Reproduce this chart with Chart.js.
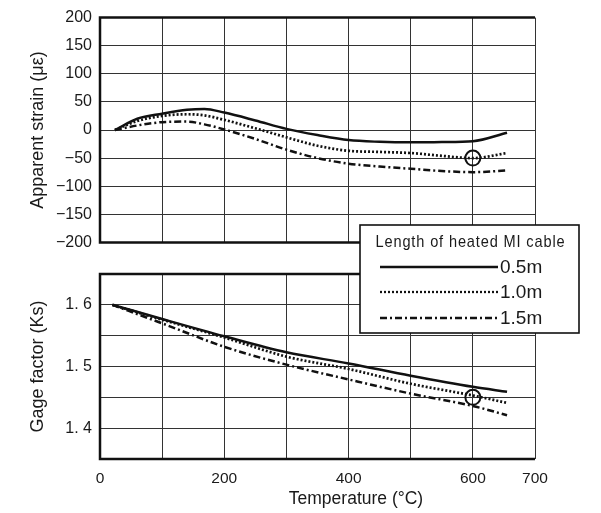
<!DOCTYPE html>
<html>
<head>
<meta charset="utf-8">
<script src="https://cdn.jsdelivr.net/npm/chart.js@4.4.1/dist/chart.umd.min.js"></script>
<style>
    html, body { margin: 0; padding: 0; background: #fff; }
    #wrap { position: relative; width: 601px; height: 513px; overflow: hidden; }
    #strainChart { position: absolute; left: 0; top: 0; }
    #gageChart { position: absolute; left: 0; top: 220px; z-index: 2; }
</style>
</head>
<body>
<div id="wrap">
    <canvas id="strainChart" width="601" height="260"></canvas>
    <canvas id="gageChart" width="601" height="293"></canvas>
</div>
<script>
// --- Data ---
const cableLabels = ['0.5m', '1.0m', '1.5m'];
const legendTitle = 'Length of heated MI cable';

// Apparent strain (µε) vs temperature
const strainTemps = [24, 60, 100, 140, 168, 200, 250, 300, 350, 400, 450, 500, 550, 600, 655];
const strain05 = [0, 20, 29, 36, 37.5, 31, 17, 2, -9, -18, -21, -22, -21.5, -20, -5];
const strain10 = [0, 16, 25, 28, 26, 18, 3, -13, -28, -37, -39, -41, -46, -50, -41];
const strain15 = [0, 8, 14, 15, 10, 1, -16, -35, -50, -60, -65, -69, -73, -75, -72];

// Gage factor (Ks) vs temperature
const gageTemps = [20, 100, 200, 300, 400, 500, 600, 655];
const gage05 = [1.6, 1.577, 1.549, 1.523, 1.505, 1.485, 1.467, 1.459];
const gage10 = [1.6, 1.576, 1.547, 1.516, 1.496, 1.472, 1.453, 1.441];
const gage15 = [1.6, 1.570, 1.532, 1.503, 1.479, 1.456, 1.436, 1.421];

// Circled points
const markTemps = [600];
const markStrain = [-50];
const markGage = [1.45];

const xTickLabels = [0, 200, 400, 600, 700];

Chart.defaults.color = '#1a1a1a';
Chart.defaults.font.family = "'Liberation Sans', Arial, sans-serif";

const INK = '#111';
const GRID = '#333';
const dashes = [[], [2, 2], [7, 3, 2, 3]];

function lineSet(label, temps, vals, i) {
    return {
        type: 'line',
        label: label,
        data: temps.map((t, k) => ({ x: t, y: vals[k] })),
        borderColor: INK,
        borderWidth: i === 1 ? 2.7 : 2.5,
        borderDash: dashes[i],
        borderCapStyle: 'butt',
        pointRadius: 0,
        fill: false,
        cubicInterpolationMode: 'monotone'
    };
}

function markSet(temps, vals) {
    return {
        type: 'scatter',
        data: temps.map((t, k) => ({ x: t, y: vals[k] })),
        pointRadius: 7.5,
        pointBorderWidth: 2,
        pointBackgroundColor: 'rgba(0,0,0,0)',
        pointBorderColor: INK,
        pointHoverRadius: 7.5
    };
}

// thick frame on left, top and bottom of the plot area
const framePlugin = {
    id: 'frame',
    beforeDatasetsDraw(chart) {
        const { ctx, chartArea: a } = chart;
        ctx.save();
        ctx.strokeStyle = INK;
        ctx.lineWidth = 2.5;
        ctx.beginPath();
        ctx.moveTo(a.right, a.top);
        ctx.lineTo(a.left, a.top);
        ctx.lineTo(a.left, a.bottom);
        ctx.lineTo(a.right, a.bottom);
        ctx.stroke();
        ctx.restore();
    }
};

const xGrid = { color: GRID, lineWidth: 1, drawTicks: false };

// --- Apparent strain chart ---
new Chart(document.getElementById('strainChart'), {
    type: 'line',
    data: {
        datasets: [
            lineSet(cableLabels[0], strainTemps, strain05, 0),
            lineSet(cableLabels[1], strainTemps, strain10, 1),
            lineSet(cableLabels[2], strainTemps, strain15, 2),
            markSet(markTemps, markStrain)
        ]
    },
    options: {
        responsive: false,
        animation: false,
        layout: { padding: { left: 0, right: 66, top: 13, bottom: 13 } },
        plugins: { legend: { display: false }, tooltip: { enabled: false } },
        scales: {
            x: {
                type: 'linear', min: 0, max: 700,
                ticks: { stepSize: 100, display: false },
                grid: xGrid,
                border: { display: false },
                afterFit: s => { s.height = 0; }
            },
            y: {
                min: -200, max: 200,
                ticks: {
                    stepSize: 50, padding: 8, font: { size: 16 },
                    callback: v => v < 0 ? '\u2212' + Math.abs(v) : String(v)
                },
                grid: { color: GRID, lineWidth: 1, drawTicks: false },
                border: { display: false },
                title: { display: true, text: 'Apparent strain (\u03bc\u03b5)', font: { size: 18 }, padding: { top: 27, bottom: 0 } },
                afterFit: s => { s.width = 100; }
            }
        }
    },
    plugins: [framePlugin]
});

// legend box + x axis title, drawn on the lower canvas (it overlaps the upper chart)
const overlayPlugin = {
    id: 'overlay',
    afterDraw(chart) {
        const { ctx, chartArea: a } = chart;
        ctx.save();

        // x axis title
        ctx.fillStyle = '#1a1a1a';
        ctx.font = "17.5px 'Liberation Sans', Arial, sans-serif";
        ctx.textAlign = 'center';
        ctx.textBaseline = 'middle';
        ctx.fillText('Temperature (\u00b0C)', a.left + 256, a.bottom + 40);

        // legend
        const bx = 360, by = 5, bw = 219, bh = 108;
        ctx.fillStyle = '#fff';
        ctx.fillRect(bx, by, bw, bh);
        ctx.strokeStyle = INK;
        ctx.lineWidth = 1.6;
        ctx.strokeRect(bx, by, bw, bh);

        // condensed, letter-spaced title
        ctx.fillStyle = '#1a1a1a';
        ctx.font = "17px 'Liberation Sans', Arial, sans-serif";
        ctx.letterSpacing = '1px';
        const tw = ctx.measureText(legendTitle).width;
        const sx = 190 / tw;
        ctx.save();
        ctx.translate(bx + bw / 2 + 1, by + 17);
        ctx.scale(sx, 1);
        ctx.textAlign = 'center';
        ctx.fillText(legendTitle, 0, 0);
        ctx.restore();
        ctx.letterSpacing = '0px';

        const rows = [by + 42, by + 67, by + 93];
        ctx.font = "19px 'Liberation Sans', Arial, sans-serif";
        ctx.textAlign = 'left';
        cableLabels.forEach((lab, i) => {
            ctx.beginPath();
            ctx.setLineDash(dashes[i]);
            ctx.lineWidth = 2.3;
            ctx.moveTo(bx + 20, rows[i]);
            ctx.lineTo(bx + 138, rows[i]);
            ctx.stroke();
            ctx.setLineDash([]);
            ctx.fillText(lab, bx + 140, rows[i] + 1);
        });
        ctx.restore();
    }
};

// --- Gage factor chart ---
new Chart(document.getElementById('gageChart'), {
    type: 'line',
    data: {
        datasets: [
            lineSet(cableLabels[0], gageTemps, gage05, 0),
            lineSet(cableLabels[1], gageTemps, gage10, 1),
            lineSet(cableLabels[2], gageTemps, gage15, 2),
            markSet(markTemps, markGage)
        ]
    },
    options: {
        responsive: false,
        animation: false,
        layout: { padding: { left: 0, right: 66, top: 54, bottom: 0 } },
        plugins: { legend: { display: false }, tooltip: { enabled: false } },
        scales: {
            x: {
                type: 'linear', min: 0, max: 700,
                ticks: {
                    stepSize: 100, padding: 10, autoSkip: false, maxRotation: 0,
                    font: { size: 15.5 },
                    callback: v => xTickLabels.includes(v) ? String(v) : ''
                },
                grid: xGrid,
                border: { display: false },
                afterFit: s => { s.height = 54; }
            },
            y: {
                min: 1.35, max: 1.65,
                ticks: {
                    stepSize: 0.05, padding: 8, font: { size: 16 },
                    callback: v => {
                        const k = Math.round(v * 100);
                        return k % 10 === 0 ? (k / 100).toFixed(1).replace('.', '. ') : '';
                    }
                },
                grid: { color: GRID, lineWidth: 1, drawTicks: false },
                border: { display: false },
                title: { display: true, text: 'Gage factor (Ks)', font: { size: 18 }, padding: { top: 27, bottom: 0 } },
                afterFit: s => { s.width = 100; }
            }
        }
    },
    plugins: [framePlugin, overlayPlugin]
});
</script>
</body>
</html>
